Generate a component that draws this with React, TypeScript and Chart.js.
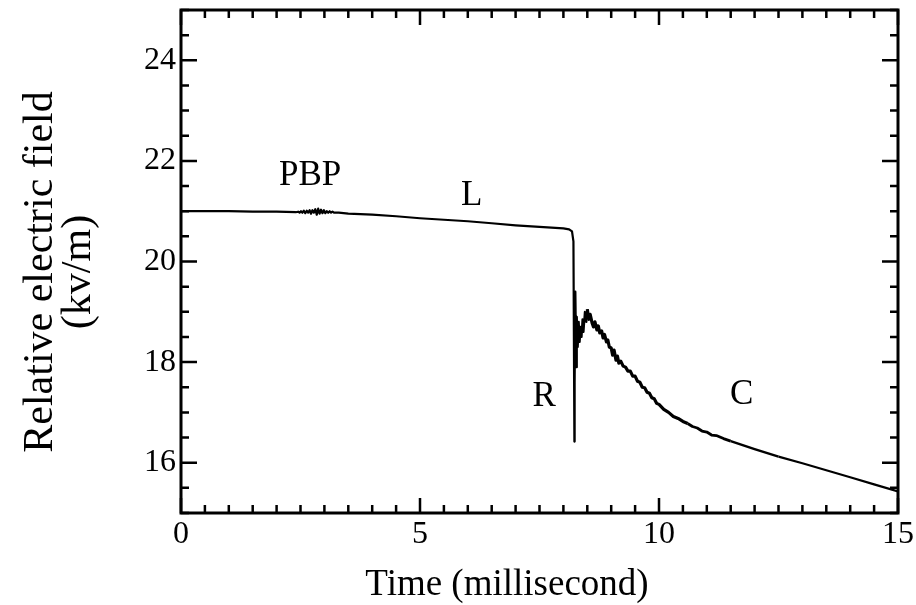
import React, { useEffect, useRef } from "react";
import { Chart, registerables } from "chart.js";

Chart.register(...registerables);

// Time (millisecond)
const timeMs: number[] = [
  0, 0.5, 1, 1.5, 2, 2.4,
  2.45, 2.48, 2.51, 2.54, 2.57, 2.6, 2.63, 2.66, 2.69, 2.72, 2.75, 2.78, 2.81, 2.84, 2.87, 2.9, 2.93, 2.96, 2.99, 3.02, 3.05, 3.08, 3.11, 3.14, 3.17, 3.2, 3.3,
  3.5, 4, 4.5, 5, 5.5, 6, 6.5, 7, 7.5, 8, 8.12, 8.18, 8.21,
  8.23, 8.235, 8.25, 8.27, 8.28, 8.3, 8.32, 8.34, 8.36, 8.38, 8.4, 8.42, 8.45, 8.48, 8.5, 8.53, 8.56,
  8.6, 8.63, 8.66, 8.7, 8.73, 8.76, 8.8, 8.83, 8.86, 8.9, 8.93, 8.96, 9.0, 9.03, 9.06, 9.1, 9.13, 9.16,
  9.2, 9.25, 9.3, 9.35, 9.4, 9.45, 9.5, 9.55, 9.6, 9.65, 9.7, 9.75, 9.8, 9.85, 9.9, 9.95, 10.0,
  10.1, 10.2, 10.3, 10.4, 10.5, 10.6, 10.7, 10.8, 10.9, 11.0, 11.1, 11.2, 11.35, 11.5, 11.75,
  12.0, 12.5, 13.0, 13.5, 14.0, 14.5, 15.0,
];

// Relative electric field (kV/m)
const fieldKvPerM: number[] = [
  21.0, 21.0, 21.0, 20.99, 20.99, 20.98,
  20.99, 20.97, 21.0, 20.97, 21.01, 20.96, 21.01, 20.97, 21.02, 20.95, 21.02, 20.97, 21.04, 20.93, 21.05, 20.95, 21.03, 20.96, 21.02, 20.96, 21.0, 20.97, 21.0, 20.97, 20.99, 20.97, 20.97,
  20.95, 20.93, 20.9, 20.86, 20.83, 20.8, 20.76, 20.72, 20.69, 20.66, 20.64, 20.6, 20.4,
  16.42, 17.6, 19.4, 17.9, 18.9, 18.3, 18.8, 18.4, 18.7, 18.5, 18.85, 18.6, 19.0, 18.8, 19.05, 18.85, 18.95,
  18.78, 18.7, 18.8, 18.64, 18.72, 18.58, 18.62, 18.48, 18.55, 18.4, 18.44, 18.3, 18.28, 18.14, 18.24, 18.04, 18.12, 17.98,
  18.02, 17.92, 17.9, 17.82, 17.82, 17.72, 17.72, 17.62, 17.6, 17.5, 17.49, 17.4, 17.38, 17.29, 17.27, 17.18, 17.16,
  17.06, 17.0, 16.92, 16.88, 16.82, 16.78, 16.72, 16.69, 16.63, 16.61, 16.55, 16.54, 16.48, 16.43, 16.35,
  16.27, 16.12, 15.99, 15.85, 15.71, 15.57, 15.43,
];

const xTickValues: number[] = [0, 5, 10, 15];
const yTickValues: number[] = [16, 18, 20, 22, 24];
const xRange: number[] = [0, 15];
const yRange: number[] = [15, 25];
const minorStep = 0.5;

const xTitle = "Time (millisecond)";
const yTitleLines: string[] = ["Relative electric field", "(kv/m)"];

const annotationTexts: string[] = ["PBP", "L", "R", "C"];
const annotationX: number[] = [2.7, 6.08, 7.6, 11.73];
const annotationY: number[] = [21.7, 21.3, 17.3, 17.35];

const FONT = "'Liberation Serif', 'Times New Roman', serif";

const framePlugin = {
  id: "framePlugin",
  afterDatasetsDraw(chart: any) {
    const { ctx, chartArea } = chart;
    const xs = chart.scales.x;
    const ys = chart.scales.y;
    const { left, right, top, bottom } = chartArea;
    ctx.save();
    ctx.strokeStyle = "#000";
    ctx.lineWidth = 3;
    ctx.lineCap = "butt";
    ctx.strokeRect(left, top, right - left, bottom - top);
    ctx.lineWidth = 2.5;
    ctx.beginPath();
    for (let v = xRange[0]; v <= xRange[1] + 1e-9; v += minorStep) {
      const px = xs.getPixelForValue(v);
      const major = Math.abs(v % 5) < 1e-9;
      const len = major ? 15 : 8;
      ctx.moveTo(px, bottom);
      ctx.lineTo(px, bottom - len);
      ctx.moveTo(px, top);
      ctx.lineTo(px, top + len);
    }
    for (let v = yRange[0]; v <= yRange[1] + 1e-9; v += minorStep) {
      const py = ys.getPixelForValue(v);
      const major = Math.abs(v % 2) < 1e-9;
      const len = major ? 16 : 8;
      ctx.moveTo(left, py);
      ctx.lineTo(left + len, py);
      ctx.moveTo(right, py);
      ctx.lineTo(right - len, py);
    }
    ctx.stroke();
    ctx.fillStyle = "#000";
    ctx.font = `35px ${FONT}`;
    ctx.textAlign = "center";
    ctx.textBaseline = "middle";
    annotationTexts.forEach((t, i) => {
      ctx.fillText(t, xs.getPixelForValue(annotationX[i]), ys.getPixelForValue(annotationY[i]));
    });
    // axis titles
    ctx.font = `37px ${FONT}`;
    ctx.textBaseline = "alphabetic";
    ctx.fillText(xTitle, 507, 595);
    ctx.save();
    ctx.translate(0, 272);
    ctx.rotate(-Math.PI / 2);
    ctx.font = `42px ${FONT}`;
    ctx.fillText(yTitleLines[0], 0, 52);
    ctx.fillText(yTitleLines[1], 0, 90);
    ctx.restore();
    ctx.restore();
  },
};

function segWidth(x: number): number {
  if (x >= 8.5 && x < 10.6) return 3.2;
  if (x >= 10.6 && x < 11.4) return 2.8;
  if (x >= 11.4 && x < 12.5) return 2.5;
  return 2.2;
}

export default function App() {
  const ref = useRef<HTMLCanvasElement | null>(null);
  useEffect(() => {
    if (!ref.current) return;
    const data = timeMs.map((t, i) => ({ x: t, y: fieldKvPerM[i] }));
    const chart = new Chart(ref.current, {
      type: "line",
      data: {
        datasets: [
          {
            data,
            borderColor: "#000",
            borderWidth: 2,
            pointRadius: 0,
            tension: 0,
            fill: false,
            borderJoinStyle: "round",
            segment: {
              borderWidth: (c: any) => segWidth(c.p0.parsed.x),
            },
          },
        ],
      },
      options: {
        animation: false,
        responsive: false,
        maintainAspectRatio: false,
        layout: { padding: { top: 10, right: 18, left: 0, bottom: 0 } },
        plugins: { legend: { display: false }, tooltip: { enabled: false } },
        scales: {
          x: {
            type: "linear",
            min: xRange[0],
            max: xRange[1],
            afterBuildTicks: (scale: any) => {
              scale.ticks = xTickValues.map((v) => ({ value: v }));
            },
            afterFit: (scale: any) => {
              scale.height = 92;
              scale.paddingLeft = 0;
              scale.paddingRight = 0;
            },
            grid: { display: false, drawTicks: false },
            border: { display: false },
            ticks: {
              color: "#000",
              font: { family: FONT, size: 32 },
              padding: 2,
              maxRotation: 0,
              callback: (v: any) => String(v),
            },
            title: { display: false },
          },
          y: {
            type: "linear",
            min: yRange[0],
            max: yRange[1],
            afterBuildTicks: (scale: any) => {
              scale.ticks = yTickValues.map((v) => ({ value: v }));
            },
            afterFit: (scale: any) => {
              scale.width = 181;
              scale.paddingTop = 0;
              scale.paddingBottom = 0;
            },
            grid: { display: false, drawTicks: false },
            border: { display: false },
            ticks: {
              color: "#000",
              font: { family: FONT, size: 32 },
              padding: 5,
              callback: (v: any) => String(v),
            },
            title: { display: false },
          },
        },
      },
      plugins: [framePlugin],
    });
    return () => chart.destroy();
  }, []);
  return (
    <div style={{ position: "absolute", left: 0, top: 0, width: 916, height: 605, background: "#fff" }}>
      <canvas ref={ref} width={916} height={605} style={{ display: "block" }} />
    </div>
  );
}
